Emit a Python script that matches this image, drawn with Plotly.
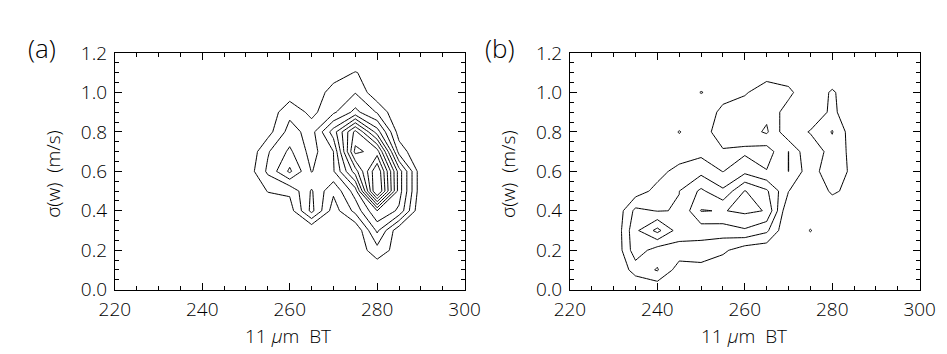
import plotly.graph_objects as go

# 11 um brightness temperature bins (K) and sigma(w) bins (m/s)
bt = [220, 225, 230, 235, 240, 245, 250, 255, 260, 265, 270, 275, 280, 285, 290, 295, 300]
sigma_w = [0.0, 0.1, 0.2, 0.3, 0.4, 0.5, 0.6, 0.7, 0.8, 0.9, 1.0, 1.1, 1.2]

# panel (a) relative frequency, rows = sigma_w, columns = bt
#         220 225 230 235 240 245 250   255   260   265   270   275   280   285   290 295 300
freq_a = [
    [0, 0, 0, 0, 0, 0, 0,    0,    0,    0,    0,    0,    0,    0,    0,   0, 0],  # 0.0
    [0, 0, 0, 0, 0, 0, 0,    0,    0,    0,    0,    0,    0.27, 0,    0,   0, 0],  # 0.1
    [0, 0, 0, 0, 0, 0, 0,    0,    0,    0,    0,    0.3,  1.6,  0.53, 0,   0, 0],  # 0.2
    [0, 0, 0, 0, 0, 0, 0,    0,    0,    0,    0,    0.1,  3.2,  0.2,  0,   0, 0],  # 0.3
    [0, 0, 0, 0, 0, 0, 0,    0.2,  0.5,  3.3,  0.5,  2.3,  5.0,  3.8,  0,   0, 0],  # 0.4
    [0, 0, 0, 0, 0, 0, 0,    1.05, 1.2,  3.11, 1.18, 3.5,  11.5, 4.5,  0.3, 0, 0],  # 0.5
    [0, 0, 0, 0, 0, 0, 0.26, 2.2,  4.2,  1.95, 2.9,  6.5,  11.0, 4.5,  0.3, 0, 0],  # 0.6
    [0, 0, 0, 0, 0, 0, 0,    1.9,  3.2,  1.6,  3.0,  9.3,  8.5,  1.6,  0,   0, 0],  # 0.7
    [0, 0, 0, 0, 0, 0, 0,    0.6,  2.4,  1.6,  4.5,  8.3,  4.5,  0.5,  0,   0, 0],  # 0.8
    [0, 0, 0, 0, 0, 0, 0,    0.3,  1.73, 0.7,  1.8,  3.3,  1.9,  0,    0,   0, 0],  # 0.9
    [0, 0, 0, 0, 0, 0, 0,    0,    0.4,  0.3,  1.43, 1.95, 0.2,  0,    0,   0, 0],  # 1.0
    [0, 0, 0, 0, 0, 0, 0,    0,    0,    0,    0.5,  1.05, 0.6,  0,    0,   0, 0],  # 1.1
    [0, 0, 0, 0, 0, 0, 0,    0,    0,    0,    0,    0,    0,    0,    0,   0, 0],  # 1.2
]

# panel (b)
#         220 225 230 235   240   245    250   255   260   265   270   275   280   285   290 295 300
freq_b = [
    [0, 0, 0, 0,    0.2,  0,     0,    0,    0,    0,    0,    0,    0,    0,    0, 0, 0],  # 0.0
    [0, 0, 0, 1.43, 2.08, 0.5,   0.67, 0.3,  0,    0,    0,    0,    0,    0,    0, 0, 0],  # 0.1
    [0, 0, 0, 2.6,  1.5,  1.6,   1.54, 1.2,  0.45, 0.3,  0,    0,    0,    0,    0, 0, 0],  # 0.2
    [0, 0, 0, 2.78, 4.3,  2.5,   2.46, 2.5,  2.87, 2.2,  0,    1.07, 0,    0,    0, 0, 0],  # 0.3
    [0, 0, 0, 2.27, 1.95, 2.05,  4.05, 3.95, 4.2,  3.95, 0,    0,    0.2,  0,    0, 0, 0],  # 0.4
    [0, 0, 0, 0.46, 1.33, 1.99,  3.2,  2.18, 4.05, 3.16, 1.03, 0,    1.2,  0.6,  0, 0, 0],  # 0.5
    [0, 0, 0, 0,    0.6,  1.4,   1.7,  0.97, 1.72, 1.05, 2.01, 0.38, 1.9,  0.6,  0, 0, 0],  # 0.6
    [0, 0, 0, 0,    0,    0.3,   0.7,  0.85, 0.82, 0.5,  2.01, 0.07, 1.56, 0.68, 0, 0, 0],  # 0.7
    [0, 0, 0, 0,    0,    1.064, 0.3,  1.8,  1.5,  2.15, 0.23, 1.1,  2.06, 0.29, 0, 0, 0],  # 0.8
    [0, 0, 0, 0,    0,    0,     0,    1.39, 1.5,  1.75, 0.5,  0,    1.3,  0,    0, 0, 0],  # 0.9
    [0, 0, 0, 0,    0,    0,     1.06, 0.4,  0.9,  1.5,  1.3,  0,    1.19, 0,    0, 0, 0],  # 1.0
    [0, 0, 0, 0,    0,    0,     0,    0,    0,    0.6,  0.3,  0,    0,    0,    0, 0, 0],  # 1.1
    [0, 0, 0, 0,    0,    0,     0,    0,    0,    0,    0,    0,    0,    0,    0, 0, 0],  # 1.2
]

levels_a = dict(start=1, end=10, size=1)
levels_b = dict(start=1, end=4, size=1)

x_ticks = [220, 240, 260, 280, 300]
y_ticks = [0.0, 0.2, 0.4, 0.6, 0.8, 1.0, 1.2]

FONT = "Open Sans"
black = [[0, "black"], [1, "black"]]

fig = go.Figure()
fig.add_trace(go.Contour(
    x=bt, y=sigma_w, z=freq_a, xaxis="x", yaxis="y",
    contours=dict(coloring="lines", **levels_a),
    line=dict(width=1, smoothing=0), colorscale=black, showscale=False,
    hoverinfo="skip"))
fig.add_trace(go.Contour(
    x=bt, y=sigma_w, z=freq_b, xaxis="x2", yaxis="y2",
    contours=dict(coloring="lines", **levels_b),
    line=dict(width=1, smoothing=0), colorscale=black, showscale=False,
    hoverinfo="skip"))

ydom = [1 - 290 / 354, 1 - 34.5 / 354]
tickfont = dict(family=FONT, size=19, color="black", weight=300)
xcommon = dict(range=[220, 300], tickvals=x_ticks, ticks="inside", ticklen=7,
               tickwidth=1, tickcolor="black", showline=True, linecolor="black",
               linewidth=1, mirror="allticks", showgrid=False, zeroline=False,
               ticklabelstandoff=2,
               minor=dict(dtick=5, tick0=220, ticks="inside", ticklen=4,
                          tickcolor="black", showgrid=False),
               tickfont=tickfont)
ycommon = dict(range=[0, 1.2], tickvals=y_ticks, tickformat=".1f", ticks="inside",
               ticklen=7, tickwidth=1, tickcolor="black", showline=True,
               linecolor="black", linewidth=1, mirror="allticks", showgrid=False,
               zeroline=False, ticklabelstandoff=3,
               minor=dict(dtick=0.05, tick0=0, ticks="inside", ticklen=4,
                          tickcolor="black", showgrid=False),
               tickfont=tickfont)

fig.update_layout(
    width=947, height=354, margin=dict(l=0, r=0, t=0, b=0),
    paper_bgcolor="white", plot_bgcolor="white", showlegend=False,
    xaxis=dict(domain=[94 / 947, 456 / 947], anchor="y", **xcommon),
    yaxis=dict(domain=ydom, anchor="x", **ycommon),
    xaxis2=dict(domain=[565 / 947, 927 / 947], anchor="y2", **xcommon),
    yaxis2=dict(domain=ydom, anchor="x2", **ycommon),
)

title_font = dict(family=FONT, size=19, color="black", weight=300)
panel_font = dict(family=FONT, size=26, color="black", weight=300)
x_title = "11\u00a0<i>μ</i>m\u00a0\u00a0BT"
y_title = "σ(w)\u00a0\u00a0(m/s)"
annotations = [
    dict(text="(a)", x=2 / 947, y=1 - 29 / 354, xanchor="left", yanchor="middle", font=panel_font),
    dict(text="(b)", x=475 / 947, y=1 - 29 / 354, xanchor="left", yanchor="middle", font=panel_font),
    dict(text=x_title, x=273 / 947, y=1 - 339.5 / 354, xanchor="center", yanchor="middle", font=title_font),
    dict(text=x_title, x=745 / 947, y=1 - 339.5 / 354, xanchor="center", yanchor="middle", font=title_font),
    dict(text=y_title, x=30 / 947, y=1 - 165 / 354, xanchor="center", yanchor="middle", textangle=-90, font=title_font),
    dict(text=y_title, x=501 / 947, y=1 - 165 / 354, xanchor="center", yanchor="middle", textangle=-90, font=title_font),
]
for a in annotations:
    a.update(xref="paper", yref="paper", showarrow=False)
fig.update_layout(annotations=annotations)

fig.write_html("out.html")
